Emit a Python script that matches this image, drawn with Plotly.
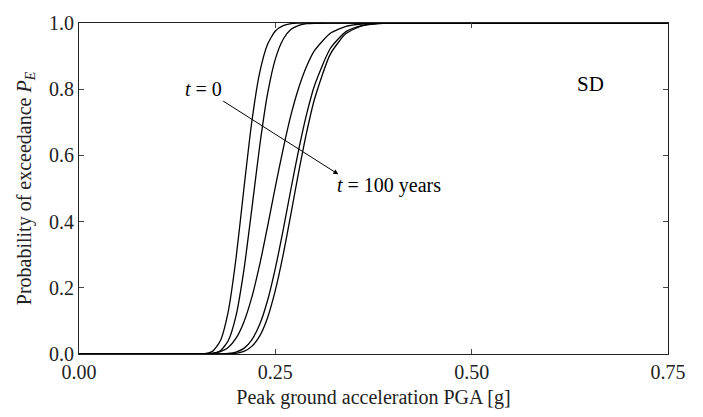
import plotly.graph_objects as go

# PGA grid [g]
pga = [0.00, 0.15, 0.16, 0.17, 0.18, 0.19, 0.20, 0.21, 0.22, 0.23, 0.24, 0.25,
       0.26, 0.27, 0.28, 0.29, 0.30, 0.32, 0.34, 0.36, 0.38, 0.40, 0.45, 0.75]

# Probability of exceedance (t = 0 ... t = 100 years)
pe_c1 = [0.0, 0.0001, 0.001, 0.008, 0.040, 0.128, 0.290, 0.500, 0.701, 0.849, 0.935, 0.976,
         0.992, 0.998, 0.9995, 1.0, 1.0, 1.0, 1.0, 1.0, 1.0, 1.0, 1.0, 1.0]
pe_c2 = [0.0, 0.0, 0.0001, 0.0015, 0.010, 0.040, 0.116, 0.254, 0.437, 0.627, 0.785, 0.891,
         0.951, 0.981, 0.993, 0.998, 0.9993, 1.0, 1.0, 1.0, 1.0, 1.0, 1.0, 1.0]
pe_c3 = [0.0, 0.0001, 0.0004, 0.002, 0.007, 0.020, 0.048, 0.097, 0.171, 0.269, 0.384, 0.505,
         0.620, 0.723, 0.806, 0.870, 0.917, 0.969, 0.990, 0.997, 0.9992, 1.0, 1.0, 1.0]
pe_c4 = [0.0, 0.0, 0.0, 0.0001, 0.0003, 0.0016, 0.006, 0.017, 0.043, 0.089, 0.161, 0.259,
         0.375, 0.500, 0.620, 0.726, 0.812, 0.923, 0.974, 0.992, 0.998, 0.9995, 1.0, 1.0]
pe_c5 = [0.0, 0.0, 0.0, 0.0, 0.0001, 0.0005, 0.002, 0.008, 0.023, 0.054, 0.109, 0.192,
         0.300, 0.425, 0.553, 0.671, 0.771, 0.906, 0.968, 0.991, 0.998, 0.9995, 1.0, 1.0]

curves = [pe_c1, pe_c2, pe_c3, pe_c4, pe_c5]

x_ticks = [0.00, 0.25, 0.50, 0.75]
x_tick_labels = ["0.00", "0.25", "0.50", "0.75"]
y_ticks = [0.0, 0.2, 0.4, 0.6, 0.8, 1.0]
y_tick_labels = ["0.0", "0.2", "0.4", "0.6", "0.8", "1.0"]

FONT = "Liberation Serif, Times New Roman, serif"

fig = go.Figure()
for c in curves:
    fig.add_trace(go.Scatter(x=pga, y=c, mode="lines",
                             line=dict(color="black", width=1.3, shape="spline", smoothing=0.6),
                             showlegend=False, hoverinfo="skip"))

axis_common = dict(showgrid=False, zeroline=False, showline=True, linecolor="#222",
                   linewidth=1, mirror="allticks", ticks="inside", ticklen=5,
                   tickcolor="#444", tickwidth=1,
                   tickfont=dict(family=FONT, size=20, color="#222"))

fig.update_xaxes(range=[0, 0.75], tickvals=x_ticks, ticktext=x_tick_labels,
                 title=dict(text="Peak ground acceleration PGA [g]", standoff=7,
                            font=dict(family=FONT, size=20, color="#222")),
                 **axis_common)
fig.update_yaxes(range=[0, 1], tickvals=y_ticks, ticktext=y_tick_labels,
                 title=dict(text="Probability of exceedance <i>P</i><sub><i>E</i></sub>", standoff=12,
                            font=dict(family=FONT, size=20, color="#222")),
                 **axis_common)

# "t = 0" label with the arrow pointing towards "t = 100 years"
fig.add_annotation(x=0.3302, y=0.543, ax=0.1585, ay=0.802, xref="x", yref="y",
                   axref="x", ayref="y", text="<i>t</i> = 0", showarrow=True,
                   arrowhead=2, arrowsize=1, arrowwidth=1, arrowcolor="black",
                   font=dict(family=FONT, size=20, color="black"))
fig.add_annotation(x=0.326, y=0.508, xref="x", yref="y", text="<i>t</i> = 100 years",
                   showarrow=False, xanchor="left",
                   font=dict(family=FONT, size=20, color="black"))
fig.add_annotation(x=0.6514, y=0.817, xref="x", yref="y", text="SD",
                   showarrow=False, font=dict(family=FONT, size=21, color="black"))

fig.update_layout(width=703, height=417, margin=dict(l=79, r=35, t=15, b=63),
                  plot_bgcolor="white", paper_bgcolor="white",
                  font=dict(family=FONT, color="#222"))

fig.write_html("out.html")
